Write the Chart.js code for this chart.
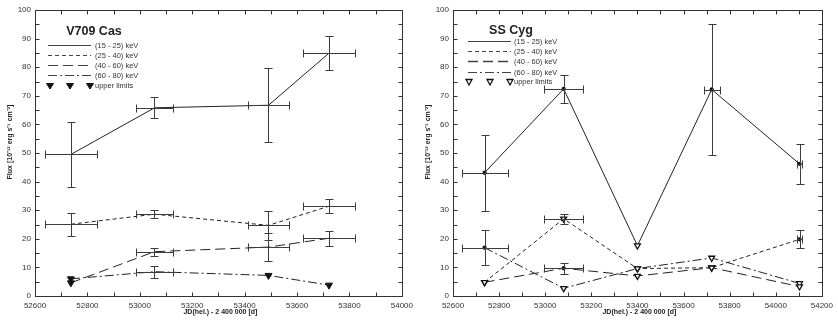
<!DOCTYPE html>
<html><head><meta charset="utf-8">
<script src="https://cdn.jsdelivr.net/npm/chart.js@4.4.1/dist/chart.umd.min.js"></script>
<style>
html,body{margin:0;padding:0;background:#fff;width:838px;height:321px;overflow:hidden}
.p{position:absolute;top:0;height:321px}
</style></head>
<body>
<div class="p" style="left:0;width:418px"><canvas id="c1" width="418" height="321"></canvas></div>
<div class="p" style="left:418px;width:420px"><canvas id="c2" width="420" height="321"></canvas></div>
<script>
// ---- V709 Cas ----
const casDates   = [52737, 53056, 53491, 53722];
const casDateErr = [100, 70, 80, 100];
const cas15    = [49.5, 65.8, 66.7, 84.9];
const cas15Err = [11.5, 3.7, 12.9, 6.0];
const cas15UL  = [false, false, false, false];
const cas25    = [25.1, 28.6, 24.7, 31.4];
const cas25Err = [4.05, 1.5, 5.1, 2.55];
const cas25UL  = [false, false, false, false];
const cas40    = [4.6, 15.5, 17.1, 20.2];
const cas40Err = [null, 1.45, 5.0, 2.65];
const cas40UL  = [true, false, false, false];
const cas60    = [6.0, 8.5, 7.2, 3.8];
const cas60Err = [null, 2.05, null, null];
const cas60UL  = [true, false, true, true];

// ---- SS Cyg ----
const cygDates   = [52737, 53080, 53400, 53722, 54103];
const cygDateErr = [100, 85, 0, 35, 12];
const cyg15    = [43.1, 72.4, 17.6, 72.2, 46.2];
const cyg15Err = [13.35, 4.75, null, 22.85, 6.95];
const cyg15UL  = [false, false, true, false, false];
const cyg25    = [4.8, 27.0, 9.6, 9.9, 19.8];
const cyg25Err = [null, 1.8, null, null, 3.15];
const cyg25UL  = [true, true, true, true, false];
const cyg40    = [4.8, 9.7, 7.0, 9.9, 3.3];
const cyg40Err = [null, 1.95, null, null, null];
const cyg40UL  = [true, false, true, true, true];
const cyg60    = [16.9, 2.7, 9.6, 13.3, 4.4];
const cyg60Err = [6.2, null, null, null, null];
const cyg60UL  = [false, true, true, true, true];

const bandLabels = ['(15 - 25) keV', '(25 - 40) keV', '(40 - 60) keV', '(60 - 80) keV'];
const ulLabel = 'upper limits';
const yTicks = [0, 10, 20, 30, 40, 50, 60, 70, 80, 90, 100];
const yTitle = 'Flux [10\u207B\u00B9\u00B2 erg s\u207B\u00B9 cm\u207B\u00B2]';
const xTitle = 'JD(hel.) - 2 400 000 [d]';

const FONT = "'Liberation Sans', Arial, sans-serif";
const dashes = [[], [4, 3], [10, 5], [9, 3, 2, 3]];
const lineCol = '#222';

const errPlugin = {
  id: 'errbars',
  afterDatasetsDraw(chart) {
    const ctx = chart.ctx, xs = chart.scales.x, ys = chart.scales.y;
    ctx.save();
    ctx.strokeStyle = '#3c3c3c'; ctx.lineWidth = 1; ctx.setLineDash([]);
    const ln = (a, b, c, d) => { ctx.beginPath(); ctx.moveTo(a, b); ctx.lineTo(c, d); ctx.stroke(); };
    const r = v => Math.round(v) + 0.5;
    chart.data.datasets.forEach(ds => {
      ds.data.forEach((p, i) => {
        const ey = ds.errY[i];
        if (ey == null) return;
        const ex = ds.errX[i] || 0;
        const px = r(xs.getPixelForValue(p.x)), py = r(ys.getPixelForValue(p.y));
        const y1 = r(ys.getPixelForValue(p.y + ey)), y2 = r(ys.getPixelForValue(p.y - ey));
        ln(px, y1, px, y2); ln(px - 4, y1, px + 4, y1); ln(px - 4, y2, px + 4, y2);
        if (ex > 0) {
          const x1 = r(xs.getPixelForValue(p.x - ex)), x2 = r(xs.getPixelForValue(p.x + ex));
          ln(x1, py, x2, py); ln(x1, py - 4, x1, py + 4); ln(x2, py - 4, x2, py + 4);
        }
      });
    });
    ctx.restore();
  }
};

const framePlugin = {
  id: 'frame',
  afterDraw(chart, args, opts) {
    const ctx = chart.ctx, a = chart.chartArea, xs = chart.scales.x, ys = chart.scales.y;
    ctx.save();
    ctx.strokeStyle = '#333'; ctx.lineWidth = 1; ctx.setLineDash([]);
    const L = Math.round(a.left) + 0.5, R = Math.round(a.right) + 0.5, T = Math.round(a.top) + 0.5, B = Math.round(a.bottom) + 0.5;
    ctx.strokeRect(L, T, R - L, B - T);
    ctx.beginPath();
    for (let v = xs.min; v <= xs.max; v += 100) {
      const x = Math.round(xs.getPixelForValue(v)) + 0.5;
      ctx.moveTo(x, B); ctx.lineTo(x, B - 4);
      ctx.moveTo(x, T); ctx.lineTo(x, T + 4);
    }
    for (let v = 0; v <= 100; v += 5) {
      const y = Math.round(ys.getPixelForValue(v)) + 0.5;
      ctx.moveTo(L, y); ctx.lineTo(L + 4, y);
      ctx.moveTo(R, y); ctx.lineTo(R - 4, y);
    }
    ctx.stroke();
    // axis titles
    ctx.fillStyle = '#222';
    ctx.font = 'bold 7px ' + FONT;
    ctx.textAlign = 'center'; ctx.textBaseline = 'middle';
    ctx.fillText(xTitle, (a.left + a.right) / 2 + 2, 312);
    ctx.save();
    ctx.translate(10, 142); ctx.rotate(-Math.PI / 2);
    ctx.fillText(yTitle, 0, 0);
    ctx.restore();
    // legend
    const lg = opts;
    ctx.font = 'bold 12.5px ' + FONT;
    ctx.fillText(lg.title, lg.titleX, lg.titleY);
    ctx.font = '7.5px ' + FONT;
    ctx.textAlign = 'left';
    bandLabels.forEach((t, i) => {
      const y = Math.round(lg.rows[i]) + 0.5;
      ctx.strokeStyle = '#444'; ctx.lineWidth = i === 2 && lg.thickLong ? 1.6 : 1;
      ctx.setLineDash(dashes[i]);
      ctx.beginPath(); ctx.moveTo(lg.x0, y); ctx.lineTo(lg.x1, y); ctx.stroke();
      ctx.setLineDash([]);
      ctx.fillStyle = '#333';
      ctx.fillText(t, lg.tx, y);
    });
    const yu = lg.rows[4];
    lg.triX.forEach(x => drawTri(ctx, x, yu, lg.filled));
    ctx.fillStyle = '#333';
    ctx.fillText(ulLabel, lg.tx, yu);
    ctx.restore();
  }
};

function drawTri(ctx, x, y, filled) {
  ctx.save();
  ctx.setLineDash([]);
  ctx.beginPath();
  const w = filled ? 3.5 : 3;
  ctx.moveTo(x - w, y - 2.5); ctx.lineTo(x + w, y - 2.5); ctx.lineTo(x, y + 3); ctx.closePath();
  ctx.fillStyle = filled ? '#111' : '#fff';
  ctx.fill();
  ctx.strokeStyle = '#111'; ctx.lineWidth = filled ? 1 : 1.3;
  ctx.stroke();
  ctx.restore();
}

function makeDs(dates, vals, errs, xerr, ul, idx, filled) {
  return {
    data: dates.map((d, i) => ({ x: d, y: vals[i] })),
    errY: errs, errX: xerr,
    borderColor: lineCol, borderWidth: 1, borderDash: dashes[idx],
    showLine: true, fill: false, tension: 0,
    pointStyle: ul.map(u => u ? 'triangle' : 'circle'),
    rotation: ul.map(u => u ? 180 : 0),
    pointRadius: ul.map(u => u ? (filled ? 4 : 3.4) : (filled ? 0 : 1.5)),
    pointBackgroundColor: ul.map(u => u ? (filled ? '#111' : '#fff') : '#111'),
    pointBorderColor: '#111',
    pointBorderWidth: filled ? 1 : 1.3
  };
}

function makeChart(id, datasets, xmax, legendOpts) {
  return new Chart(document.getElementById(id), {
    type: 'scatter',
    data: { datasets },
    options: {
      responsive: false, animation: false, devicePixelRatio: 1,
      layout: { padding: { top: 10, right: legendOpts.padRight, left: 0, bottom: 0 } },
      plugins: { legend: { display: false }, tooltip: { enabled: false }, frame: legendOpts },
      scales: {
        x: {
          type: 'linear', min: 52600, max: xmax,
          afterBuildTicks: s => { const t = []; for (let v = 52600; v <= xmax; v += 200) t.push({ value: v }); s.ticks = t; },
          ticks: { callback: v => String(v), font: { size: 8, family: FONT }, color: '#333', padding: 5, maxRotation: 0, autoSkip: false },
          grid: { display: false, drawTicks: false }, border: { display: false },
          afterFit: s => { s.height = 25; }
        },
        y: {
          min: 0, max: 100,
          afterBuildTicks: s => { s.ticks = yTicks.map(v => ({ value: v })); },
          ticks: { font: { size: 8, family: FONT }, color: '#333', padding: 4 },
          grid: { display: false, drawTicks: false }, border: { display: false },
          afterFit: s => { s.width = 35; }
        }
      }
    },
    plugins: [errPlugin, framePlugin]
  });
}

makeChart('c1', [
  makeDs(casDates, cas15, cas15Err, casDateErr, cas15UL, 0, true),
  makeDs(casDates, cas25, cas25Err, casDateErr, cas25UL, 1, true),
  makeDs(casDates, cas40, cas40Err, casDateErr, cas40UL, 2, true),
  makeDs(casDates, cas60, cas60Err, casDateErr, cas60UL, 3, true)
], 54000, {
  padRight: 10, title: 'V709 Cas', titleX: 94, titleY: 32,
  rows: [45, 55, 65, 75, 86], x0: 48, x1: 91, tx: 95, triX: [50, 70, 90], filled: true, thickLong: false
});

makeChart('c2', [
  makeDs(cygDates, cyg15, cyg15Err, cygDateErr, cyg15UL, 0, false),
  makeDs(cygDates, cyg25, cyg25Err, cygDateErr, cyg25UL, 1, false),
  makeDs(cygDates, cyg40, cyg40Err, cygDateErr, cyg40UL, 2, false),
  makeDs(cygDates, cyg60, cyg60Err, cygDateErr, cyg60UL, 3, false)
], 54200, {
  padRight: 12, title: 'SS Cyg', titleX: 93, titleY: 31,
  rows: [41, 51, 61, 72, 82], x0: 50, x1: 93, tx: 96, triX: [51, 72, 92], filled: false, thickLong: true
});
</script>
</body></html>
